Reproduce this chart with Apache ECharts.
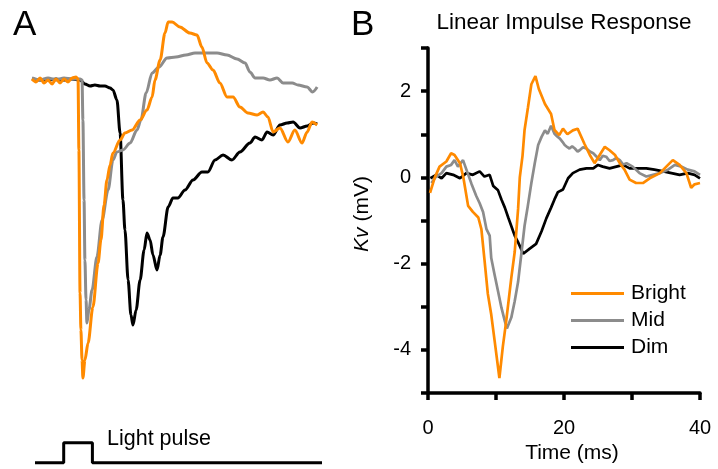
<!DOCTYPE html>
<html>
<head>
<meta charset="utf-8">
<script src="https://cdn.jsdelivr.net/npm/echarts@6/dist/echarts.min.js"></script>
<style>
html,body{margin:0;padding:0;background:#fff;}
#chart{width:718px;height:469px;}
</style>
</head>
<body>
<div id="chart"></div>
<script>
// ---------- Panel A: raw responses (arbitrary units, time in ms) ----------
const brightA = [[0,0],[1.4,-0.3],[2.8,0.1],[4.2,-0.4],[5.6,-0.1],[7.0,-0.5],[8.4,0],[9.8,-0.4],[11.2,0],[12.6,-0.3],[14.0,0.1],[15.4,0.2],[16.1,0],[16.4,-7.1],[16.8,-21.4],[17.1,-25.1],[17.5,-28.1],[17.8,-29.9],[18.5,-28.1],[19.6,-26.4],[21.3,-22.8],[23.1,-18.4],[24.1,-16.1],[25.2,-12.6],[26.2,-10.1],[27.3,-8.6],[28.3,-7.4],[30.8,-6.1],[32.5,-5.4],[35.0,-5.1],[37.8,-4.1],[40.2,-3.1],[42.0,-1.8],[43.0,-0.1],[44.8,1.9],[46.5,4.6],[47.6,5.7],[49.0,5.7],[51.7,5.2],[55.2,4.6],[57.7,4.4],[59.4,3.2],[61.2,1.6],[63.3,0.9],[65.7,-0.4],[68.2,-1.8],[70.3,-1.8],[72.7,-2.8],[75.5,-3.4],[78.7,-3.6],[80.8,-3.3],[82.5,-3.8],[84.3,-5.3],[86.7,-4.9],[89.5,-6.3],[91.9,-5.1],[94.4,-6.4],[96.2,-5.3],[97.9,-4.3],[99.7,-4.6]];
const midA = [[0,0.1],[2.8,-0.1],[5.6,0.1],[8.4,-0.1],[11.2,0.1],[14.0,0],[16.8,0],[17.5,-0.1],[17.8,-4.1],[18.2,-12.1],[18.5,-18.1],[18.9,-22.1],[19.2,-24.4],[19.9,-23.1],[21.0,-21.1],[22.7,-17.8],[24.5,-14.1],[26.6,-11.1],[28.3,-8.1],[29.7,-7.3],[31.8,-7.1],[34.3,-6.4],[36.7,-5.1],[38.1,-4.1],[39.9,-1.4],[42.0,0.6],[44.4,1.2],[47.2,2.1],[50.3,2.2],[53.8,2.4],[57.0,2.6],[61.2,2.6],[64.7,2.6],[68.2,2.4],[71.7,2.0],[74.5,1.6],[76.2,0.7],[78.0,0.1],[80.8,0.1],[83.2,-0.1],[85.7,0.1],[87.8,-0.4],[91.0,-0.4],[93.0,-0.6],[96.2,-0.8],[98.1,-1.3],[99.7,-0.8]];
const dimA = [[0,0],[2.8,-0.1],[5.6,-0.1],[8.4,0],[11.2,-0.1],[14.0,0],[16.8,-0.1],[18.5,-0.5],[20.3,-0.7],[22.0,-0.6],[23.8,-0.7],[25.5,-0.7],[27.3,-0.9],[28.3,-1.1],[29.7,-2.1],[30.8,-5.4],[31.8,-12.1],[32.5,-15.1],[33.6,-20.1],[34.6,-23.6],[35.3,-24.6],[36.4,-23.1],[37.8,-20.1],[39.2,-17.1],[40.2,-15.4],[41.3,-16.1],[42.3,-17.6],[43.7,-19.1],[44.8,-17.6],[45.8,-15.8],[47.6,-12.8],[49.3,-11.9],[51.0,-11.9],[53.5,-11.1],[56.3,-10.1],[59.4,-9.3],[61.5,-9.3],[64.0,-8.1],[66.8,-7.6],[69.9,-8.1],[72.7,-7.3],[76.2,-6.4],[78.0,-5.8],[80.4,-6.1],[82.2,-5.3],[84.3,-5.6],[86.7,-4.6],[89.2,-4.4],[91.3,-4.3],[93.7,-4.9],[96.2,-4.7],[98.3,-4.4],[99.7,-4.5]];
const pulseA = [[0,0],[10,0],[10,1],[20,1],[20,0],[100,0]];

// ---------- Panel B: linear impulse response (Kv, mV vs time, ms) ----------
const brightB = [[0.3,-0.36],[1,0],[1.7,0.25],[2.7,0.37],[3.4,0.56],[3.9,0.52],[4.7,0.33],[5.2,0.0],[5.9,-0.66],[6.6,-0.8],[7.4,-0.93],[7.85,-1.2],[8.3,-1.9],[8.8,-2.7],[9.3,-3.18],[9.8,-3.79],[10.5,-4.65],[11.0,-3.93],[11.5,-3.33],[12.25,-2.33],[12.75,-1.73],[13.25,-0.73],[13.5,0.0],[13.9,0.5],[14.2,1.1],[14.7,1.62],[15.2,2.16],[15.8,2.35],[16.3,2.05],[17.2,1.7],[18.1,1.47],[18.6,1.1],[19.3,0.98],[19.85,1.13],[20.5,1.0],[21.3,1.09],[22.0,1.13],[23.0,0.78],[23.8,0.52],[24.5,0.33],[25.25,0.52],[26.0,0.71],[26.7,0.63],[27.5,0.52],[28.2,0.33],[28.9,0.18],[29.65,-0.05],[30.6,-0.13],[31.6,-0.13],[32.6,-0.02],[34.1,0.1],[35.3,0.29],[36.0,0.4],[37.0,0.29],[38.0,0.1],[38.7,-0.24],[39.2,-0.16],[40,-0.13]];
const midB = [[0.5,-0.13],[1.2,0.02],[2,0.1],[2.7,0.25],[3.4,0.29],[3.9,0.4],[4.4,0.25],[5.15,0.4],[5.65,0.18],[6.4,-0.15],[7.1,-0.43],[7.6,-0.6],[8.1,-0.8],[8.6,-1.2],[9.07,-1.35],[9.3,-1.87],[9.8,-2.26],[10.3,-2.64],[10.8,-3.02],[11.3,-3.33],[11.6,-3.5],[12.25,-3.25],[12.75,-2.87],[13.25,-2.42],[13.7,-1.81],[14.2,-1.12],[14.6,-0.74],[15.2,-0.13],[15.7,0.33],[16.2,0.75],[16.7,0.94],[17.2,1.09],[17.6,1.01],[18.1,1.2],[18.6,1.01],[19.0,0.95],[19.4,0.9],[19.8,0.82],[20.1,0.75],[20.5,0.7],[20.8,0.67],[21.2,0.72],[21.6,0.67],[22.0,0.6],[22.3,0.63],[22.8,0.7],[23.3,0.67],[23.8,0.6],[24.3,0.56],[24.8,0.48],[25.25,0.4],[25.7,0.5],[26.2,0.48],[26.7,0.38],[27.2,0.4],[27.7,0.45],[28.2,0.4],[28.7,0.3],[29.2,0.33],[30.1,0.25],[31.1,0.1],[32.1,0.02],[33.1,0.06],[34.1,0.1],[35.3,0.18],[36.3,0.29],[37.3,0.25],[38.2,0.18],[39.2,0.14],[40,0.06]];
const dimB = [[0.35,-0.02],[1.2,0.06],[2,-0.02],[2.7,0.1],[3.7,0.06],[4.7,-0.02],[5.65,0.1],[6.6,0.06],[7.6,0.14],[8.3,0.02],[9.07,0.06],[9.6,-0.2],[10.3,-0.3],[10.8,-0.51],[11.3,-0.7],[11.8,-0.93],[12.3,-1.15],[12.75,-1.35],[13.24,-1.5],[14.0,-1.77],[14.96,-1.65],[15.9,-1.54],[16.7,-1.25],[17.4,-0.95],[18.1,-0.7],[18.6,-0.51],[19.1,-0.34],[19.85,-0.28],[20.6,-0.02],[21.3,0.1],[22.3,0.18],[23.3,0.21],[24.3,0.21],[25.0,0.29],[25.7,0.25],[26.7,0.21],[27.7,0.25],[28.7,0.29],[29.65,0.21],[30.9,0.21],[32.1,0.21],[33.3,0.18],[34.6,0.14],[35.8,0.1],[37.0,0.06],[38.2,0.1],[39.2,0.06],[40,-0.02]];

const xTicksB = [0, 20, 40];
const yTicksB = [-4, -2, 0, 2];
const seriesNames = ['Bright', 'Mid', 'Dim'];
const colors = {Bright: '#ff8a00', Mid: '#8c8c8c', Dim: '#000000'};
const FONT = '"Liberation Sans", Arial, sans-serif';

const chart = echarts.init(document.getElementById('chart'), null, {renderer: 'canvas'});
const axisStyle = {onZero: false, lineStyle: {color: '#000', width: 3.5}};

chart.setOption({
  animation: false,
  backgroundColor: '#fff',
  textStyle: {fontFamily: FONT, color: '#000'},
  grid: [
    {left: 32, top: 9, width: 286, height: 390},
    {left: 35, top: 442.7, width: 287, height: 20},
    {left: 428, top: 48, width: 272, height: 350}
  ],
  xAxis: [
    {gridIndex: 0, type: 'value', min: 0, max: 100, show: false},
    {gridIndex: 1, type: 'value', min: 0, max: 100, show: false},
    {gridIndex: 2, type: 'value', min: 0, max: 40, interval: 10,
      axisLine: axisStyle,
      axisTick: {show: true, inside: false, length: 7, lineStyle: {color: '#000', width: 3.5}},
      axisLabel: {margin: 25, fontSize: 20, fontFamily: FONT, color: '#000',
        formatter: v => xTicksB.includes(v) ? String(v) : ''},
      splitLine: {show: false},
      name: 'Time (ms)', nameLocation: 'middle', nameGap: 44,
      nameTextStyle: {fontSize: 21, fontFamily: FONT, color: '#000', padding: [0, 0, 0, 16]}
    }
  ],
  yAxis: [
    {gridIndex: 0, type: 'value', min: -32, max: 7, show: false},
    {gridIndex: 1, type: 'value', min: 0, max: 1, show: false},
    {gridIndex: 2, type: 'value', min: -5, max: 3, interval: 1,
      axisLine: axisStyle,
      axisTick: {show: true, inside: false, length: 7, lineStyle: {color: '#000', width: 3.5}},
      axisLabel: {margin: 17, fontSize: 20, fontFamily: FONT, color: '#000',
        formatter: v => yTicksB.includes(v) ? String(v) : ''},
      splitLine: {show: false}
    }
  ],
  legend: {
    data: seriesNames,
    orient: 'vertical',
    left: 566, top: 278,
    itemWidth: 53, itemHeight: 3, itemGap: 6,
    icon: 'rect',
    textStyle: {fontSize: 21, fontFamily: FONT, color: '#000', padding: [0, 0, 0, 2]},
    selectedMode: false
  },
  series: [
    {name: 'Dim', type: 'line', xAxisIndex: 0, yAxisIndex: 0, data: dimA, showSymbol: false, clip: false,
      smooth: 0.3, smoothMonotone: 'x',
      lineStyle: {color: colors.Dim, width: 3}, itemStyle: {color: colors.Dim}},
    {name: 'Mid', type: 'line', xAxisIndex: 0, yAxisIndex: 0, data: midA, showSymbol: false, clip: false,
      smooth: 0.3, smoothMonotone: 'x',
      lineStyle: {color: colors.Mid, width: 3}, itemStyle: {color: colors.Mid}},
    {name: 'Bright', type: 'line', xAxisIndex: 0, yAxisIndex: 0, data: brightA, showSymbol: false, clip: false,
      smooth: 0.3, smoothMonotone: 'x',
      lineStyle: {color: colors.Bright, width: 3}, itemStyle: {color: colors.Bright}},
    {name: 'pulse', type: 'line', xAxisIndex: 1, yAxisIndex: 1, data: pulseA, showSymbol: false, clip: false,
      lineStyle: {color: '#000', width: 3}},
    {name: 'Dim', type: 'line', xAxisIndex: 2, yAxisIndex: 2, data: dimB, showSymbol: false,
      lineStyle: {color: colors.Dim, width: 2.7}, itemStyle: {color: colors.Dim}},
    {name: 'Mid', type: 'line', xAxisIndex: 2, yAxisIndex: 2, data: midB, showSymbol: false,
      lineStyle: {color: colors.Mid, width: 2.7}, itemStyle: {color: colors.Mid}},
    {name: 'Bright', type: 'line', xAxisIndex: 2, yAxisIndex: 2, data: brightB, showSymbol: false,
      lineStyle: {color: colors.Bright, width: 2.7}, itemStyle: {color: colors.Bright}}
  ],
  graphic: [
    {type: 'text', left: 13, top: 8, style: {text: 'A', fontSize: 35, fontFamily: FONT, fill: '#000'}},
    {type: 'text', left: 351, top: 8, style: {text: 'B', fontSize: 35, fontFamily: FONT, fill: '#000'}},
    {type: 'text', x: 564, y: 23, style: {text: 'Linear Impulse Response', fontSize: 22.5, fontFamily: FONT, fill: '#000', align: 'center', verticalAlign: 'middle'}},
    {type: 'text', x: 107, y: 439, style: {text: 'Light pulse', fontSize: 21.5, fontFamily: FONT, fill: '#000', align: 'left', verticalAlign: 'middle'}},
    {type: 'text', x: 362, y: 214, rotation: Math.PI / 2,
      style: {text: '{i|Kv} (mV)', fontSize: 21, fontFamily: FONT, fill: '#000', align: 'center', verticalAlign: 'middle',
        rich: {i: {fontStyle: 'italic', fontSize: 21, fontFamily: FONT, fill: '#000'}}}}
  ]
});
</script>
</body>
</html>
